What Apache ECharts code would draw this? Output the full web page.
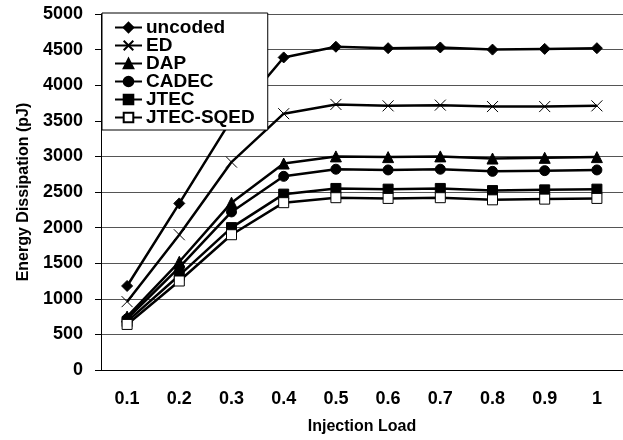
<!DOCTYPE html>
<html>
<head>
<meta charset="utf-8">
<script src="https://cdn.jsdelivr.net/npm/echarts@6/dist/echarts.min.js"></script>
<style>
  html, body { margin: 0; padding: 0; background: #fff; }
  #main { width: 623px; height: 440px; }
</style>
</head>
<body>
<div id="main"></div>
<script>
// data
const loads = ['0.1', '0.2', '0.3', '0.4', '0.5', '0.6', '0.7', '0.8', '0.9', '1'];
const uncoded = [1180, 2340, 3520, 4390, 4540, 4520, 4530, 4500, 4510, 4520];
const ed = [960, 1900, 2920, 3600, 3730, 3710, 3720, 3700, 3700, 3710];
const dap = [750, 1520, 2350, 2900, 3000, 2990, 3000, 2970, 2980, 2990];
const cadec = [720, 1440, 2220, 2720, 2820, 2810, 2820, 2790, 2800, 2810];
const jtec = [680, 1330, 2000, 2470, 2550, 2540, 2550, 2520, 2530, 2540];
const jtecSqed = [640, 1250, 1900, 2350, 2420, 2410, 2420, 2390, 2400, 2410];
const yTicks = [0, 500, 1000, 1500, 2000, 2500, 3000, 3500, 4000, 4500, 5000];

const font = 'Liberation Sans, Arial, sans-serif';
const cross = 'path://M0,0L10,10M10,0L0,10';

function line(name, data, symbol, size, extra) {
  return Object.assign({
    name: name,
    type: 'line',
    data: data,
    symbol: symbol,
    symbolSize: size,
    showAllSymbol: true,
    lineStyle: { color: '#000', width: 2.5 },
    itemStyle: { color: '#000', borderColor: '#000', borderWidth: 1 },
    emphasis: { disabled: true },
    animation: false
  }, extra || {});
}

const chart = echarts.init(document.getElementById('main'));
chart.setOption({
  animation: false,
  grid: { left: 101, right: -6, top: 14, bottom: 67 },
  legend: {
    orient: 'vertical',
    left: 102,
    top: 13,
    padding: [5, 13, 3, 12],
    itemGap: -1,
    itemWidth: 27,
    itemHeight: 12,
    backgroundColor: '#fff',
    borderColor: '#000',
    borderWidth: 1,
    borderRadius: 0,
    textStyle: { fontFamily: font, fontWeight: 'bold', fontSize: 19, lineHeight: 18, color: '#000', padding: [0, 0, 0, -1] },
    data: ['uncoded', 'ED', 'DAP', 'CADEC', 'JTEC', 'JTEC-SQED']
  },
  xAxis: {
    type: 'category',
    data: loads,
    boundaryGap: true,
    name: 'Injection Load',
    nameLocation: 'middle',
    nameGap: 49,
    nameTextStyle: { fontFamily: font, fontWeight: 'bold', fontSize: 16, color: '#000' },
    axisLine: { lineStyle: { color: '#000', width: 1 } },
    axisTick: { alignWithLabel: false, length: 6, lineStyle: { color: '#000' } },
    axisLabel: { fontFamily: font, fontWeight: 'bold', fontSize: 18, color: '#000', margin: 20 }
  },
  yAxis: {
    type: 'value',
    min: yTicks[0],
    max: yTicks[yTicks.length - 1],
    interval: 500,
    name: 'Energy Dissipation (pJ)',
    nameLocation: 'middle',
    nameGap: 66,
    nameTextStyle: { fontFamily: font, fontWeight: 'bold', fontSize: 16, color: '#000' },
    axisLine: { show: true, lineStyle: { color: '#000', width: 1 } },
    axisTick: { show: true, length: 6, lineStyle: { color: '#000' } },
    axisLabel: { fontFamily: font, fontWeight: 'bold', fontSize: 18, color: '#000', margin: 18, formatter: v => String(v) },
    splitLine: { lineStyle: { color: '#555', width: 1 } }
  },
  series: [
    line('uncoded', uncoded, 'diamond', 11),
    line('ED', ed, cross, 11, { itemStyle: { color: 'none', borderColor: '#000', borderWidth: 1 } }),
    line('DAP', dap, 'triangle', 11),
    line('CADEC', cadec, 'circle', 10),
    line('JTEC', jtec, 'rect', 10),
    line('JTEC-SQED', jtecSqed, 'rect', 10, { itemStyle: { color: '#fff', borderColor: '#000', borderWidth: 1 } })
  ]
});
</script>
</body>
</html>
